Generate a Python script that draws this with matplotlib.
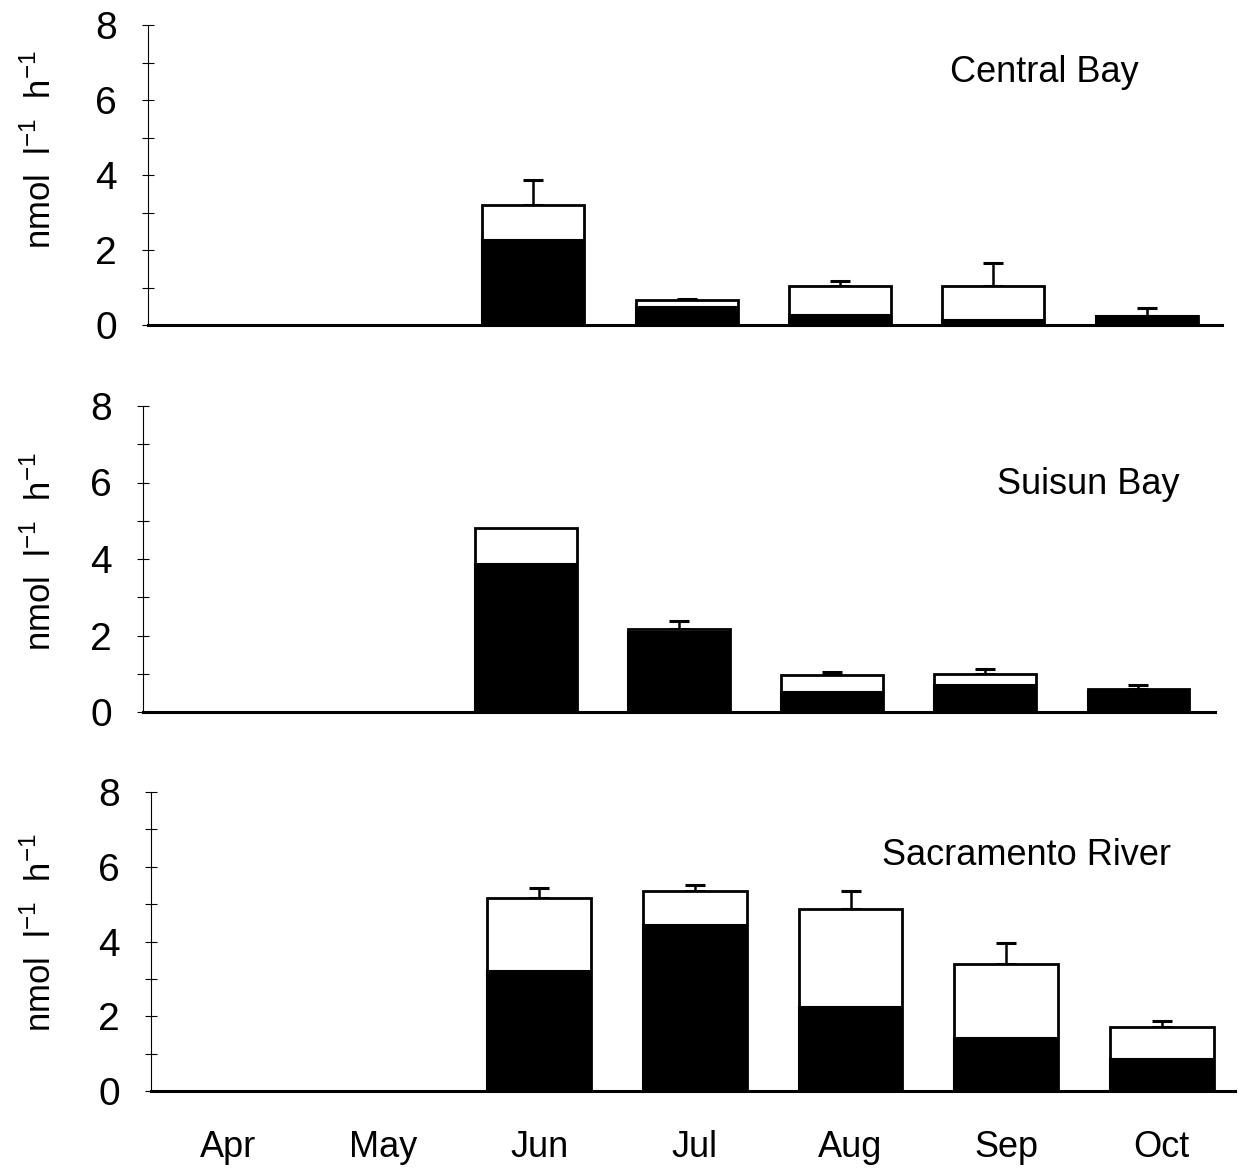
import numpy as np
import matplotlib
matplotlib.use("Agg")
import matplotlib.pyplot as plt
from matplotlib.ticker import MultipleLocator

plt.rcParams['font.family'] = ['Liberation Sans', 'DejaVu Sans']
plt.rcParams['mathtext.fontset'] = 'custom'
plt.rcParams['mathtext.rm'] = 'Liberation Sans'

months = ['Apr', 'May', 'Jun', 'Jul', 'Aug', 'Sep', 'Oct']
panel_names = ['Central Bay', 'Suisun Bay', 'Sacramento River']

central_total = [0, 0, 3.20, 0.66, 1.03, 1.05, 0.25]
central_dark = [0, 0, 2.28, 0.47, 0.26, 0.13, 0.25]
central_err = [0, 0, 0.67, 0.03, 0.14, 0.60, 0.20]

suisun_total = [0, 0, 4.82, 2.18, 0.96, 1.00, 0.61]
suisun_dark = [0, 0, 3.88, 2.09, 0.52, 0.70, 0.54]
suisun_err = [0, 0, 0, 0.20, 0.09, 0.12, 0.09]

sac_total = [0, 0, 5.17, 5.36, 4.86, 3.41, 1.70]
sac_dark = [0, 0, 3.20, 4.45, 2.24, 1.43, 0.85]
sac_err = [0, 0, 0.25, 0.16, 0.49, 0.56, 0.17]

totals = [central_total, suisun_total, sac_total]
darks = [central_dark, suisun_dark, sac_dark]
errs = [central_err, suisun_err, sac_err]

W, H = 1240, 1168
fig = plt.figure(figsize=(W / 100, H / 100), dpi=100)

# axes boxes in pixels: (left, right, top(y=8), bottom(y=0))
boxes = [(148, 1222, 25, 325), (143, 1215, 406, 712), (151, 1235, 792, 1091)]
xlims = [(-0.511, 6.49), (-0.50, 6.50), (-0.494, 6.47)]
label_pos = [(0.835, 0.84), (0.882, 0.745), (0.808, 0.789)]
ylabel_y = [150, 552, 933]

x = np.arange(len(months))
width = 0.665
for i in range(3):
    l, r, t, b = boxes[i]
    ax = fig.add_axes([l / W, 1 - b / H, (r - l) / W, (b - t) / H])
    tot = np.array(totals[i])
    dk = np.array(darks[i])
    er = np.array(errs[i])
    m = tot > 0
    me = m & (er > 0)
    ax.errorbar(x[me], tot[me], yerr=[np.zeros(me.sum()), er[me]], fmt='none',
                ecolor='black', elinewidth=1.8, capsize=7, capthick=2.2, zorder=1)
    ax.bar(x[m], tot[m], width=width, color='white', edgecolor='black', linewidth=2.0, zorder=2)
    ax.bar(x[m], dk[m], width=width, color='black', edgecolor='black', linewidth=1.5, zorder=3)

    ax.set_ylim(0, 8)
    ax.set_xlim(*xlims[i])
    ax.yaxis.set_major_locator(MultipleLocator(2))
    ax.yaxis.set_minor_locator(MultipleLocator(1))
    ax.tick_params(axis='y', which='both', direction='inout', length=8, width=0.8,
                   labelsize=28, pad=18.5)
    for sp in ['top', 'right']:
        ax.spines[sp].set_visible(False)
    ax.spines['left'].set_linewidth(0.8)
    ax.spines['bottom'].set_linewidth(2.2)
    ax.set_xticks(x)
    if i == 2:
        ax.set_xticklabels(months, fontsize=26)
        ax.tick_params(axis='x', length=0, pad=28)
    else:
        ax.set_xticklabels([])
        ax.tick_params(axis='x', length=0)
    fig.text(40 / W, 1 - ylabel_y[i] / H,
             r'nmol  l$^{\mathregular{-1}}$  h$^{\mathregular{-1}}$',
             rotation=90, ha='center', va='center', fontsize=25)
    ax.text(label_pos[i][0], label_pos[i][1], panel_names[i], transform=ax.transAxes,
            ha='center', va='center', fontsize=26)

fig.savefig('out.png', dpi=100)
